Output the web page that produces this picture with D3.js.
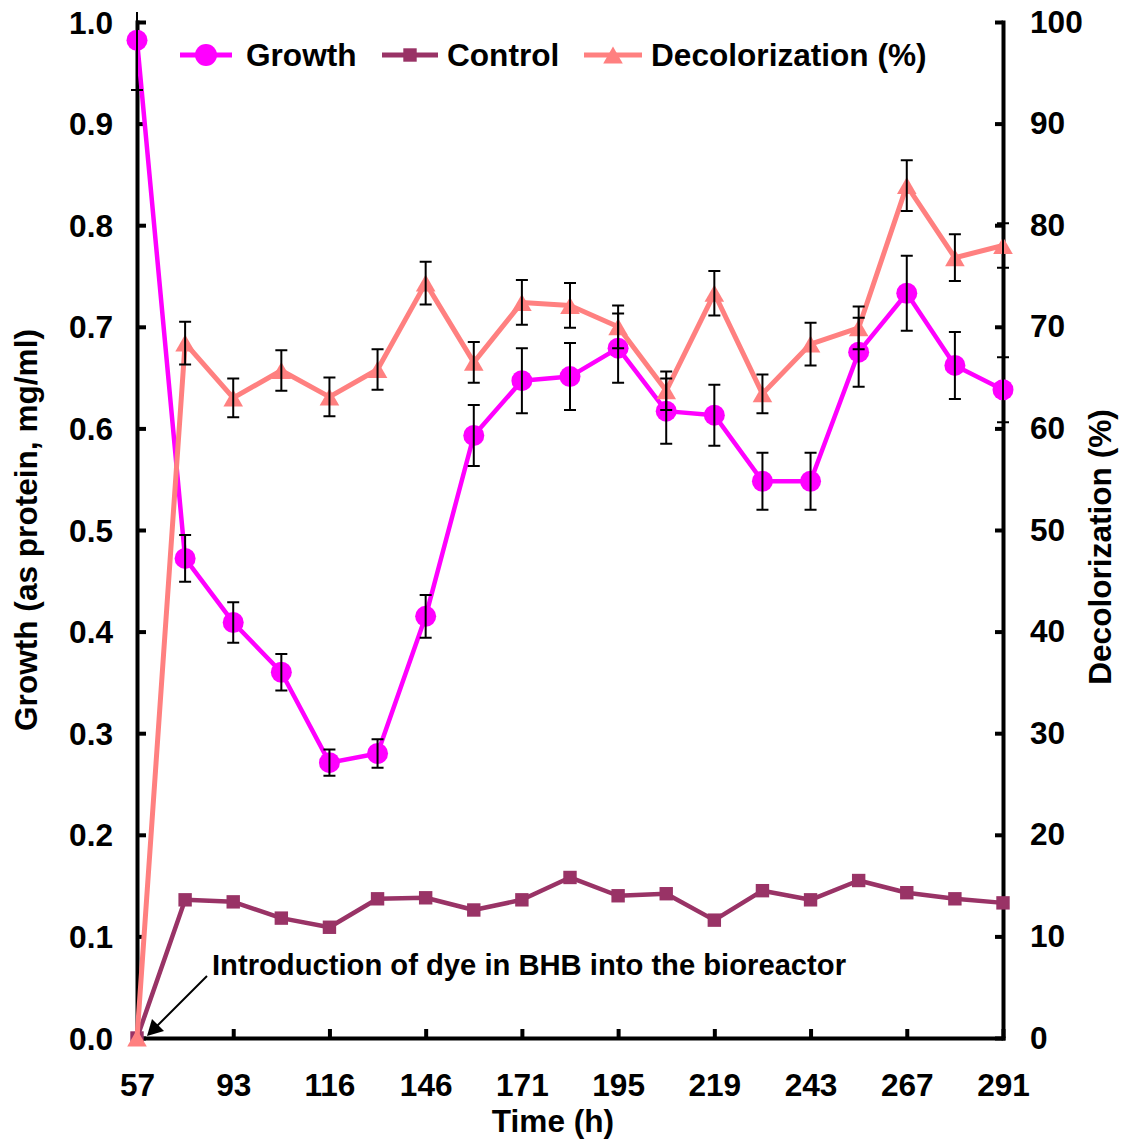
<!DOCTYPE html>
<html>
<head>
<meta charset="utf-8">
<script src="https://cdn.jsdelivr.net/npm/d3@7"></script>
<style>
  html, body { margin: 0; padding: 0; background: #fff; }
  svg { display: block; font-family: "Liberation Sans", Arial, sans-serif; font-weight: bold; }
</style>
</head>
<body>
<svg id="chart" width="1124" height="1140"></svg>
<script>
// ---- data ----
const categories = ["57","69","93","105","116","131","146","158","171","183","195","207","219","231","243","255","267","279","291"];
const tickLabels = ["57","93","116","146","171","195","219","243","267","291"];
const growth    = [0.982,0.472,0.409,0.360,0.271,0.280,0.415,0.593,0.647,0.651,0.679,0.617,0.613,0.548,0.548,0.675,0.733,0.662,0.638];
const growthErr = [0.049,0.023,0.020,0.018,0.013,0.014,0.021,0.030,0.032,0.033,0.034,0.032,0.030,0.028,0.028,0.034,0.037,0.033,0.032];
const control   = [0,0.136,0.134,0.118,0.109,0.137,0.138,0.126,0.136,0.158,0.140,0.142,0.116,0.145,0.136,0.155,0.143,0.137,0.133];
const decol     = [0,68.4,63.0,65.7,63.1,65.8,74.3,66.5,72.4,72.1,70.0,63.7,73.3,63.4,68.3,69.9,83.9,76.8,78.0];
const decolErr  = [0,2.1,1.9,2.0,1.9,2.0,2.1,2.0,2.2,2.2,2.1,1.9,2.2,1.9,2.1,2.1,2.5,2.3,2.2];
const leftTicks  = [0,0.1,0.2,0.3,0.4,0.5,0.6,0.7,0.8,0.9,1.0];
const rightTicks = [0,10,20,30,40,50,60,70,80,90,100];
const seriesNames = ["Growth","Control","Decolorization (%)"];
const annotation = "Introduction of dye in BHB into the bioreactor";

// ---- layout ----
const L = 137, R = 1003, T = 22, B = 1038;
const svg = d3.select("#chart");
const x = d3.scalePoint().domain(categories).range([L, R]);
const yL = d3.scaleLinear().domain([0, 1]).range([B, T]);
const yR = d3.scaleLinear().domain([0, 100]).range([B, T]);

const C_G = "#FF00FF", C_C = "#993366", C_D = "#FF8080";
const FS = 31.6;

// clip for error bars (plot area top)
svg.append("defs").append("clipPath").attr("id","plotclip")
  .append("rect").attr("x", 0).attr("y", 12).attr("width", 1124).attr("height", 1128);

// ---- axes ----
function styleAxis(g) {
  g.select(".domain").attr("stroke", "#000").attr("stroke-width", 4).attr("stroke-linecap", "square");
  g.selectAll(".tick line").attr("stroke", "#000").attr("stroke-width", 4);
  g.selectAll(".tick text").attr("fill", "#000").style("font-size", FS + "px")
    .style("font-family", "'Liberation Sans', Arial, sans-serif").style("font-weight", "bold");
}
const gx = svg.append("g").attr("transform", `translate(0,${B})`)
  .call(d3.axisBottom(x).tickValues(tickLabels).tickSizeInner(-9).tickSizeOuter(0).tickPadding(36));
styleAxis(gx);
const gl = svg.append("g").attr("transform", `translate(${L},0)`)
  .call(d3.axisLeft(yL).tickValues(leftTicks).tickFormat(d3.format(".1f")).tickSizeInner(-9).tickSizeOuter(0).tickPadding(24));
styleAxis(gl);
gl.selectAll(".tick text").attr("dy", "0.35em");
const gr = svg.append("g").attr("transform", `translate(${R},0)`)
  .call(d3.axisRight(yR).tickValues(rightTicks).tickFormat(d3.format("d")).tickSizeInner(-8).tickSizeOuter(0).tickPadding(27));
styleAxis(gr);

// axis titles
svg.append("text").attr("x", 553).attr("y", 1132).attr("text-anchor", "middle")
  .style("font-size", FS + "px").text("Time (h)");
svg.append("text").attr("transform", "translate(37,530) rotate(-90)").attr("text-anchor", "middle")
  .style("font-size", FS + "px").text("Growth (as protein, mg/ml)");
svg.append("text").attr("transform", "translate(1111,547) rotate(-90)").attr("text-anchor", "middle")
  .style("font-size", FS + "px").text("Decolorization (%)");

// ---- series ----
const lineL = d3.line().x((d, i) => x(categories[i])).y(d => yL(d));
const lineR = d3.line().x((d, i) => x(categories[i])).y(d => yR(d));

const triPath = "M0,-8.5 L9.8,8.5 L-9.8,8.5 Z";

// Control
svg.append("path").datum(control).attr("d", lineL).attr("fill", "none")
  .attr("stroke", C_C).attr("stroke-width", 4.5).attr("stroke-linejoin", "round");
svg.selectAll(".sq").data(control).enter().append("rect")
  .attr("x", (d, i) => x(categories[i]) - 6.7).attr("y", d => yL(d) - 6.7)
  .attr("width", 13.4).attr("height", 13.4).attr("fill", C_C);

// Growth
svg.append("path").datum(growth).attr("d", lineL).attr("fill", "none")
  .attr("stroke", C_G).attr("stroke-width", 4.5).attr("stroke-linejoin", "round");
svg.selectAll(".ci").data(growth).enter().append("circle")
  .attr("cx", (d, i) => x(categories[i])).attr("cy", d => yL(d)).attr("r", 10.5).attr("fill", C_G);

// Decolorization
svg.append("path").datum(decol).attr("d", lineR).attr("fill", "none")
  .attr("stroke", C_D).attr("stroke-width", 5).attr("stroke-linejoin", "round");
svg.selectAll(".tr").data(decol).enter().append("path")
  .attr("d", triPath)
  .attr("transform", (d, i) => `translate(${x(categories[i])},${yR(d)})`)
  .attr("fill", C_D);

// Error bars
const eb = svg.append("g").attr("clip-path", "url(#plotclip)").attr("stroke", "#000").attr("stroke-width", 2).attr("fill", "none");
function errorBars(vals, errs, scale) {
  vals.forEach((v, i) => {
    if (!errs[i]) return;
    const cx = x(categories[i]);
    const y1 = scale(v + errs[i]), y2 = scale(v - errs[i]);
    eb.append("path").attr("d", `M${cx},${y1}V${y2}M${cx-6},${y1}H${cx+6}M${cx-6},${y2}H${cx+6}`);
  });
}
errorBars(growth, growthErr, yL);
errorBars(decol, decolErr, yR);

// ---- legend ----
const legend = [
  { name: seriesNames[0], color: C_G, x1: 180, x2: 232, tx: 246, mark: "circle" },
  { name: seriesNames[1], color: C_C, x1: 382, x2: 438, tx: 447, mark: "square" },
  { name: seriesNames[2], color: C_D, x1: 584, x2: 642, tx: 651, mark: "tri" }
];
const ly = 55;
legend.forEach(l => {
  const g = svg.append("g");
  g.append("line").attr("x1", l.x1).attr("x2", l.x2).attr("y1", ly).attr("y2", ly)
    .attr("stroke", l.color).attr("stroke-width", 5);
  const mx = (l.x1 + l.x2) / 2;
  if (l.mark === "circle") g.append("circle").attr("cx", mx).attr("cy", ly).attr("r", 11).attr("fill", l.color);
  else if (l.mark === "square") g.append("rect").attr("x", mx - 6.7).attr("y", ly - 6.7).attr("width", 13.4).attr("height", 13.4).attr("fill", l.color);
  else g.append("path").attr("d", triPath).attr("transform", `translate(${mx},${ly})`).attr("fill", l.color);
  g.append("text").attr("x", l.tx).attr("y", ly + 11).style("font-size", FS + "px").text(l.name);
});

// ---- annotation ----
svg.append("text").attr("x", 212).attr("y", 975).style("font-size", "29.2px").text(annotation);
svg.append("line").attr("x1", 207).attr("y1", 976).attr("x2", 156).attr("y2", 1027)
  .attr("stroke", "#000").attr("stroke-width", 2);
svg.append("path").attr("d", "M147,1036 L152,1019 L164,1031 Z").attr("fill", "#000");
</script>
</body>
</html>
